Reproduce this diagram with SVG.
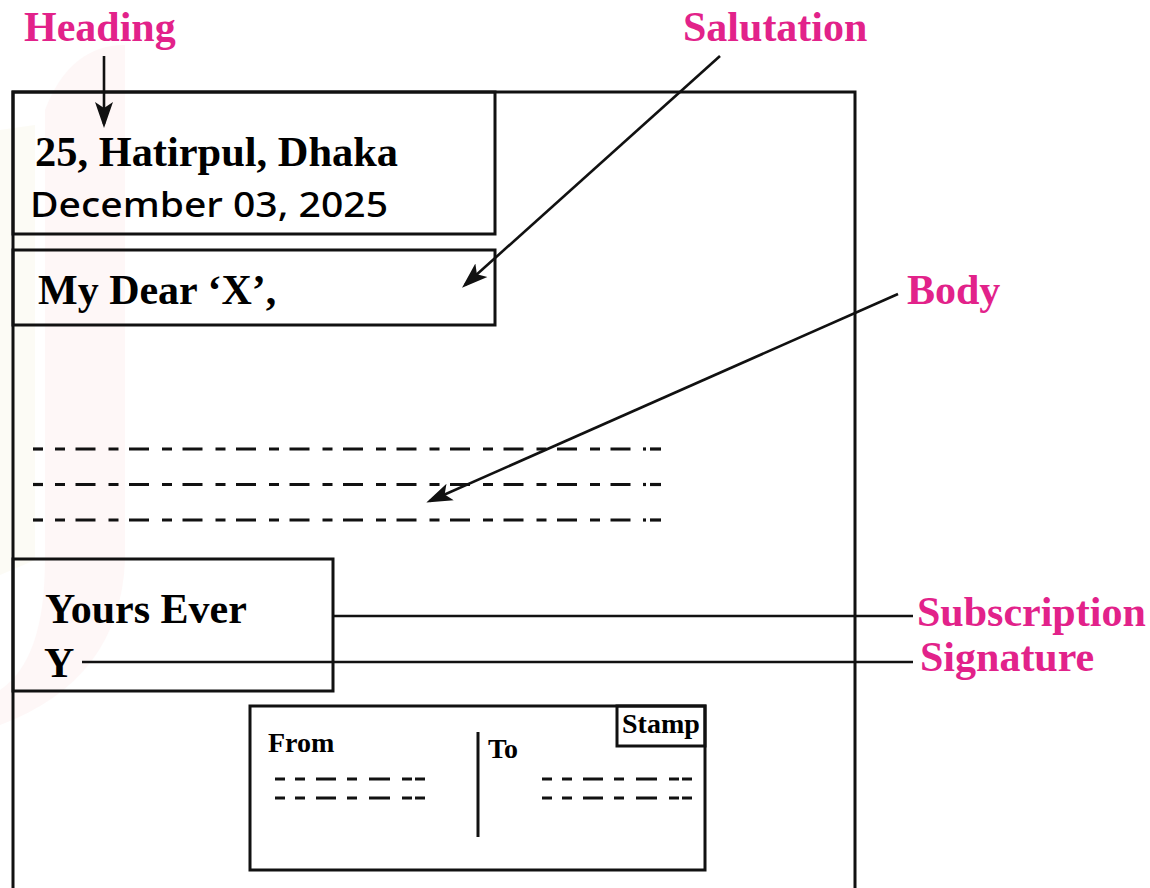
<svg xmlns="http://www.w3.org/2000/svg" xmlns:xlink="http://www.w3.org/1999/xlink" width="1150" height="888" viewBox="0 0 1150 888">
<style>
.box{fill:none;stroke:#111;stroke-width:3}
.conn{fill:none;stroke:#111;stroke-width:2.6}
.dash{stroke:#111;stroke-width:3.2;fill:none}
.lbl{font-family:"Liberation Serif","Times New Roman",serif;font-weight:bold;font-size:42px;fill:#E2228A}
.bt{font-family:"Liberation Serif","Times New Roman",serif;font-weight:bold;font-size:42px;fill:#000}
.st{font-family:"Liberation Serif","Times New Roman",serif;font-weight:bold;font-size:28px;fill:#000}
.sans{font-family:"Noto Sans","Open Sans",sans-serif;font-weight:500;font-size:35px;fill:#000}
</style>
<defs>
<marker id="arr" markerUnits="userSpaceOnUse" markerWidth="26" markerHeight="20" viewBox="0 0 26 20" refX="22" refY="10" orient="auto">
<path d="M0,1 L26,10 L0,19 L6,10 z" fill="#111"/>
</marker>
<g id="bodyline">
<line class="dash" x1="33" y1="0" x2="43" y2="0"/>
<line class="dash" x1="55" y1="0" x2="631" y2="0" stroke-dasharray="10 10.5 20 13"/>
<line class="dash" x1="643" y1="0" x2="646" y2="0"/>
<line class="dash" x1="650" y1="0" x2="661" y2="0"/>
</g>
<path id="envdash" class="dash" d="M0,0 h150" stroke-dasharray="10 10 10 11 20 11 10 12 21 12 10 3 10 100"/>
</defs>
<rect width="1150" height="888" fill="#fff"/>
<g id="watermark" opacity="0.4">
<path d="M0,130 L35,125 L35,560 L0,575 z" fill="#f9f7e8"/>
<path d="M45,110 Q70,45 125,45 L125,560 Q120,680 0,725 L0,690 Q45,660 45,560 z" fill="#fdecec"/>
</g>
<g id="frame">
<path class="box" d="M13,888 L13,92 L855,92 L855,888"/>
</g>
<g id="heading">
<rect class="box" x="13" y="92" width="482" height="142"/>
<text class="bt" x="35" y="166" textLength="363" lengthAdjust="spacingAndGlyphs">25, Hatirpul, Dhaka</text>
<text class="sans" x="30" y="217" textLength="358" lengthAdjust="spacingAndGlyphs">December 03, 2025</text>
</g>
<g id="salutation">
<rect class="box" x="13" y="250" width="482" height="75"/>
<text class="bt" x="38" y="304">My Dear ‘X’,</text>
</g>
<g id="body">
<use xlink:href="#bodyline" href="#bodyline" y="449"/>
<use xlink:href="#bodyline" href="#bodyline" y="484.5"/>
<use xlink:href="#bodyline" href="#bodyline" y="520"/>
</g>
<g id="subscription">
<rect class="box" x="13" y="559" width="320" height="132"/>
<text class="bt" x="45" y="623">Yours Ever</text>
<text class="bt" x="44" y="677">Y</text>
</g>
<g id="envelope">
<rect class="box" x="250" y="706" width="455" height="164"/>
<rect class="box" x="617" y="706" width="88" height="40"/>
<text class="st" x="622" y="733">Stamp</text>
<text class="st" x="268" y="752">From</text>
<text class="st" x="488" y="758">To</text>
<line class="box" x1="478" y1="732" x2="478" y2="837"/>
<use xlink:href="#envdash" href="#envdash" x="275" y="779"/>
<use xlink:href="#envdash" href="#envdash" x="275" y="798"/>
<use xlink:href="#envdash" href="#envdash" x="542" y="779"/>
<use xlink:href="#envdash" href="#envdash" x="542" y="798"/>
</g>
<g id="labels">
<text class="lbl" x="24" y="41">Heading</text>
<text class="lbl" x="683" y="41">Salutation</text>
<text class="lbl" x="907" y="304">Body</text>
<text class="lbl" x="917" y="626">Subscription</text>
<text class="lbl" x="920" y="671">Signature</text>
</g>
<g id="connectors">
<line class="conn" x1="104" y1="56" x2="104" y2="124" marker-end="url(#arr)"/>
<line class="conn" x1="720" y1="56" x2="465" y2="285" marker-end="url(#arr)"/>
<line class="conn" x1="898" y1="294" x2="430" y2="501" marker-end="url(#arr)"/>
<line class="conn" x1="333" y1="616" x2="913" y2="616"/>
<line class="conn" x1="82" y1="662" x2="913" y2="662"/>
</g>
</svg>
